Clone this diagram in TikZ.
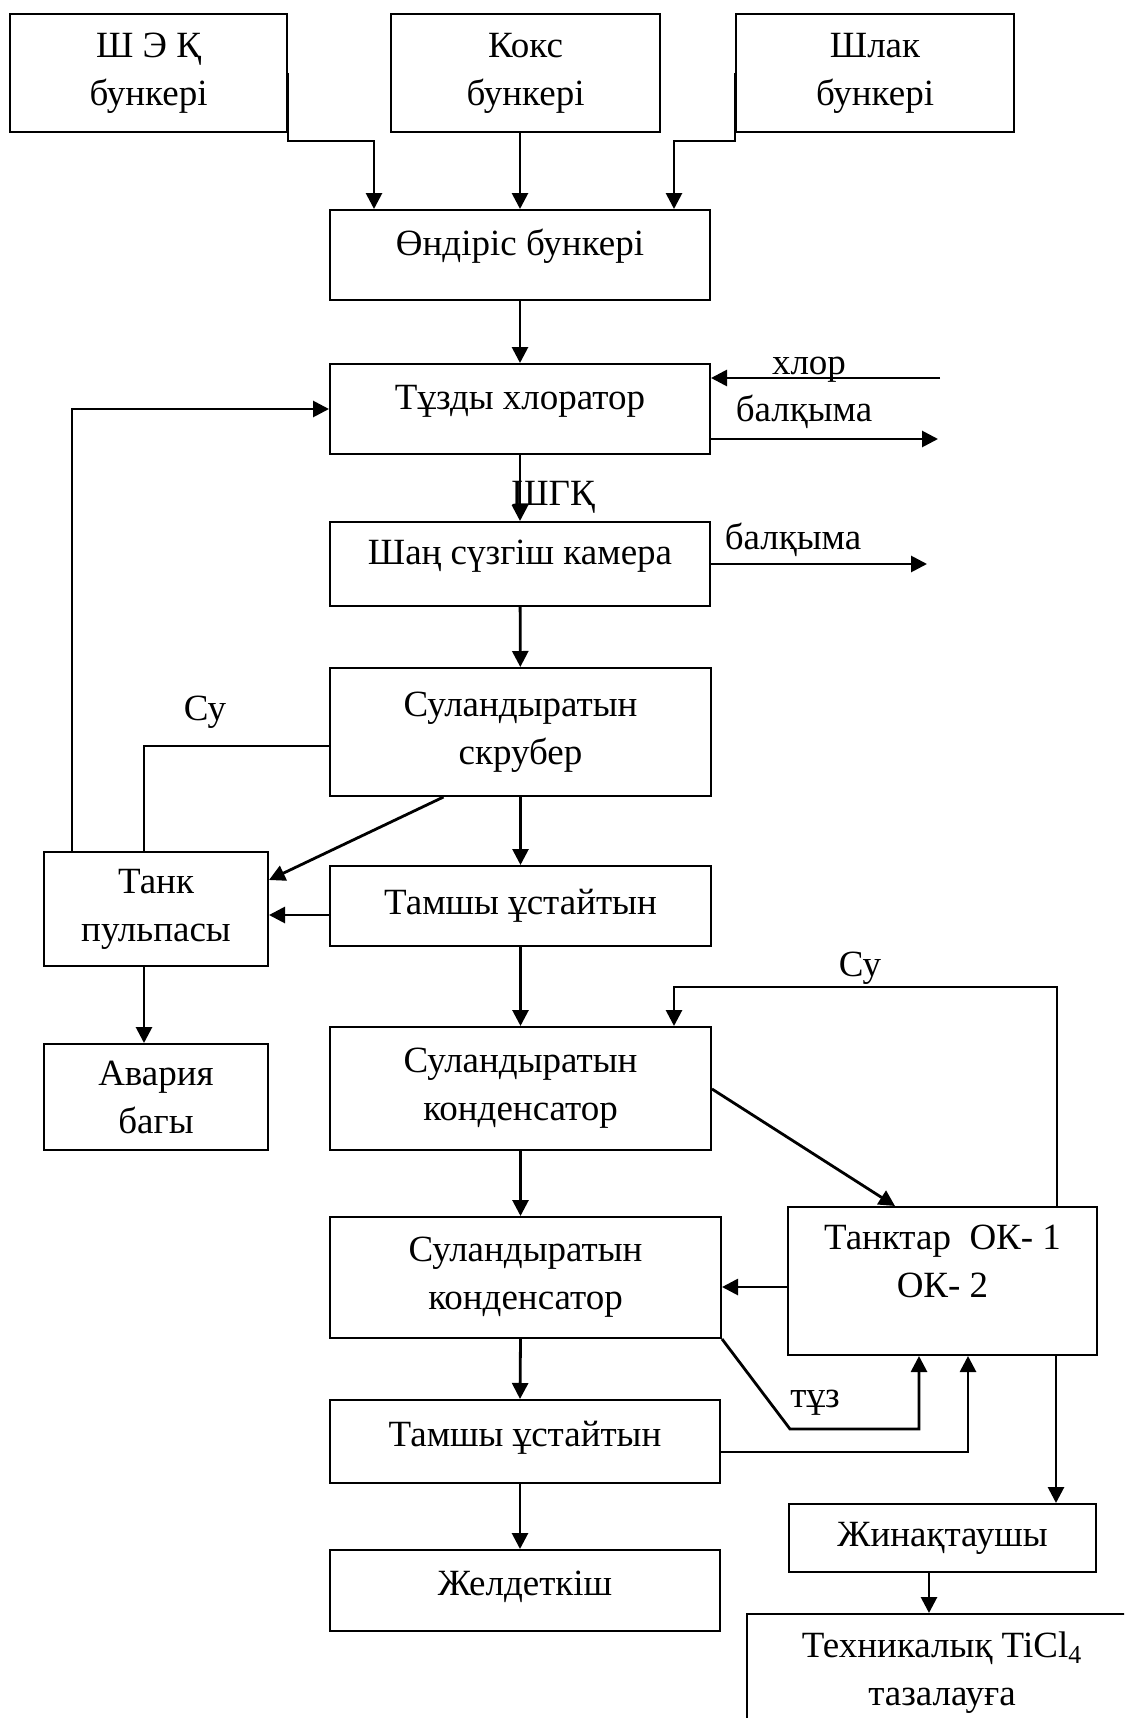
\documentclass[tikz,border=0pt]{standalone}
\usepackage{fontspec}
\setmainfont{Liberation Serif}
\usepackage{tikz}
\usetikzlibrary{arrows.meta,calc}
\newcommand\flowfont{\fontsize{18.5}{24}\selectfont}

\begin{document}
\begin{tikzpicture}[
 x=0.5pt,y=-0.5pt,
 box/.style={draw,line width=1pt,align=center,inner sep=0pt,font=\flowfont},
 bx/.style 2 args={box,minimum width=#1*0.5pt,minimum height=#2*0.5pt},
 hi/.style={text height=12pt,text depth=12pt},
 mid/.style={text height=12pt,text depth=7pt},
 lbl/.style={inner sep=0pt,font=\flowfont},
 arr/.style={-{Triangle[length=8pt,width=8pt]},line width=1.4pt},
 ln/.style={line width=1.4pt}
]
\useasboundingbox (0,0) rectangle (1124,1718);
\clip (0,0) rectangle (1124,1718);
\node[bx={277}{118}] (shek) at (148.5,73) {Ш Э Қ\\бункері};
\node[bx={269}{118}] (koks) at (525.5,73) {Кокс\\бункері};
\node[bx={278}{118}] (shlak) at (875,73) {Шлак\\бункері};
\node[bx={380}{90},hi] (ondiris) at (520,255) {Өндіріс бункері};
\node[bx={380}{90},hi] (chlor) at (520,409) {Тұзды хлоратор};
\node[bx={380}{84},hi] (shan) at (520,564) {Шаң сүзгіш камера};
\node[bx={381}{128}] (scrub) at (520.5,732) {Суландыратын\\скрубер};
\node[bx={381}{80}] (tamshy) at (520.5,906) {Тамшы ұстайтын};
\node[bx={224}{114}] (tank) at (156,909) {Танк\\пульпасы};
\node[bx={224}{106}] (avaria) at (156,1097) {Авария\\багы};
\node[bx={381}{123}] (cond) at (520.5,1088.5) {Суландыратын\\конденсатор};
\node[bx={309}{148}] (tanktar) at (942.5,1281) {Танктар\ \ ОК- 1\\ОК- 2\\[-4pt]\mbox{}};
\node[bx={391}{121}] (condb) at (525.5,1277.5) {Суландыратын\\конденсатор};
\node[bx={390}{83},mid] (tamshyb) at (525,1441.5) {Тамшы ұстайтын};
\node[bx={390}{81},mid] (zheld) at (525,1590.5) {Желдеткіш};
\node[bx={307}{68}] (zhinak) at (942.5,1538) {Жинақтаушы};
\node[bx={390}{118}] (tekh) at (942,1673) {Техникалық TiCl\textsubscript{4}\\тазалауға};
\coordinate (chlorin) at (940,378);
\coordinate (meltout) at (938,439);
\coordinate (meltoutb) at (927,564);
\node[lbl] (lblchlor) at (809,370) {хлор};
\node[lbl] (lblmelt) at (804,412) {балқыма};
\node[lbl] (lblgas) at (553,497) {ШГҚ};
\node[lbl] (lblmeltb) at (793,540) {балқыма};
\node[lbl] (lblwater) at (205,712) {Су};
\node[lbl] (lblwaterb) at (860,968) {Су};
\node[lbl] (lblsalt) at (815,1403) {тұз};
\draw[arr] (shek.east) -- ++(0,68) -| ($(ondiris.north)+(-146,0)$);
\draw[arr] (ondiris.north |- koks.south) -- (ondiris.north);
\draw[arr] (shlak.west) -- ++(0,68) -| ($(ondiris.north)+(154,0)$);
\draw[arr] (ondiris) -- (chlor);
\draw[arr] (chlorin) -- (chlorin -| chlor.east);
\draw[arr] (meltout -| chlor.east) -- (meltout);
\draw[arr] (chlor) -- (shan);
\draw[arr] (shan.east) -- (meltoutb);
\draw[arr] (shan) -- (scrub);
\draw[ln] ($(scrub.west)+(0,14)$) -| ($(tank.north)+(-12,0)$);
\draw[arr] ($(tank.north)+(-84,0)$) |- (chlor.west);
\draw[arr] ($(scrub.south)+(-77,0)$) -- ($(tank.east)+(0,-29)$);
\draw[arr] (scrub) -- (tamshy);
\draw[arr] ($(tamshy.west)+(0,9)$) -- ($(tank.east)+(0,6)$);
\draw[arr] ($(tank.south)+(-12,0)$) -- ($(avaria.north)+(-12,0)$);
\draw[arr] (tamshy) -- (cond);
\draw[arr] ($(tanktar.north)+(114.5,0)$) |- ($(cond.north)+(153.5,-39)$) -- ($(cond.north)+(153.5,0)$);
\draw[arr] ($(cond.east)+(0,0.5)$) -- ($(tanktar.north)+(-47.5,0)$);
\draw[arr] (cond.south) -- (cond.south |- condb.north);
\draw[arr] ($(tanktar.west)+(0,6)$) -- ($(condb.east)+(0,9.5)$);
\draw[arr] (condb.south east) -- ++(68,90) -| ($(tanktar.south)+(-23.5,0)$);
\draw[arr] ($(tamshyb.east)+(0,10.5)$) -| ($(tanktar.south)+(25.5,0)$);
\draw[arr] ($(condb.south)+(-5,0)$) -- ($(tamshyb.north)+(-5,0)$);
\draw[arr] ($(tamshyb.south)+(-5,0)$) -- ($(zheld.north)+(-5,0)$);
\draw[arr] ($(tanktar.south)+(113.5,0)$) -- ($(zhinak.north)+(113.5,0)$);
\draw[arr] ($(zhinak.south)+(-13.5,0)$) -- ($(tekh.north)+(-13,0)$);
\end{tikzpicture}
\end{document}
